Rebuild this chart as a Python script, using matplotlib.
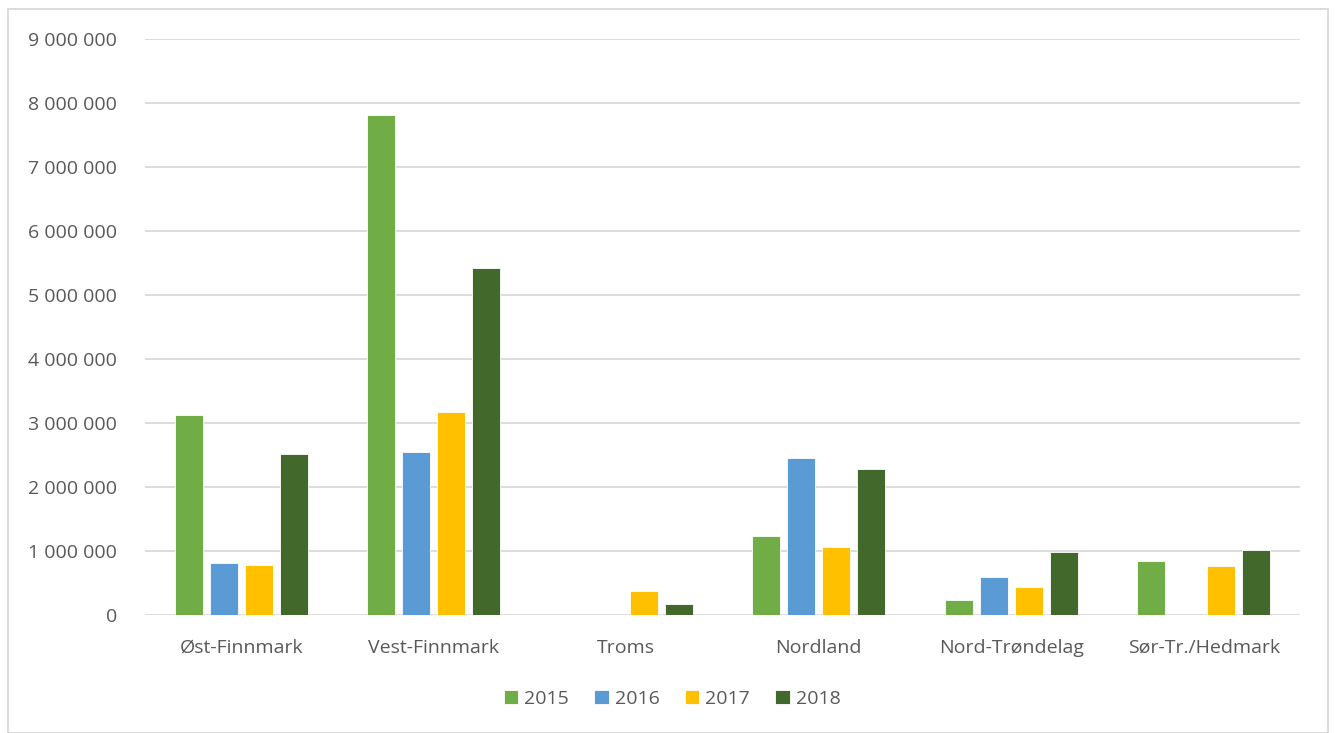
import matplotlib.pyplot as plt
import numpy as np
from matplotlib.patches import Rectangle
from matplotlib.ticker import FuncFormatter

# data
regions = ['Øst-Finnmark', 'Vest-Finnmark', 'Troms', 'Nordland', 'Nord-Trøndelag', 'Sør-Tr./Hedmark']
years = ['2015', '2016', '2017', '2018']
v2015 = [3120000, 7810000, 0, 1230000, 230000, 840000]
v2016 = [810000, 2550000, 0, 2460000, 600000, 0]
v2017 = [780000, 3170000, 370000, 1060000, 430000, 770000]
v2018 = [2510000, 5420000, 170000, 2280000, 980000, 1010000]
colors = ['#70AD47', '#5B9BD5', '#FFC000', '#43682B']

plt.rcParams['font.family'] = ['Open Sans', 'DejaVu Sans']
text_col = '#595959'

fig = plt.figure(figsize=(13.35, 7.33), dpi=100)
ax = fig.add_axes([145 / 1335, 1 - 615 / 733, 1155 / 1335, 576 / 733])

# border around the chart
fig.patches.append(Rectangle((8 / 1335, 0), 1320 / 1335, 1 - 9 / 733, transform=fig.transFigure,
                             fill=False, edgecolor='#D9D9D9', linewidth=1.3))

x = np.arange(len(regions))
w = 0.145
step = 0.182
for i, vals in enumerate([v2015, v2016, v2017, v2018]):
    ax.bar(x + (i - 1.5) * step, vals, width=w, color=colors[i], label=years[i],
           edgecolor='white', linewidth=0.6, zorder=3)

ax.set_xlim(-0.5, len(regions) - 0.5)
ax.set_ylim(0, 9000000)
ax.set_yticks(range(0, 9000001, 1000000))
ax.yaxis.set_major_formatter(FuncFormatter(lambda v, p: f'{int(v):,}'.replace(',', ' ')))
ax.set_xticks(x)
ax.set_xticklabels(regions)
ax.grid(axis='y', color='#D9D9D9', linewidth=1.3, zorder=0)
for s in ax.spines.values():
    s.set_visible(False)
ax.tick_params(axis='both', length=0, labelsize=14, colors=text_col)
ax.tick_params(axis='y', pad=20)
ax.tick_params(axis='x', pad=17)

fig.legend(loc='center', bbox_to_anchor=(672 / 1335, 1 - 699 / 733), ncol=4, frameon=False,
           fontsize=14, handlelength=0.75, handleheight=0.75, handletextpad=0.3,
           columnspacing=1.3, labelcolor=text_col)

plt.savefig('out.png', dpi=100)
